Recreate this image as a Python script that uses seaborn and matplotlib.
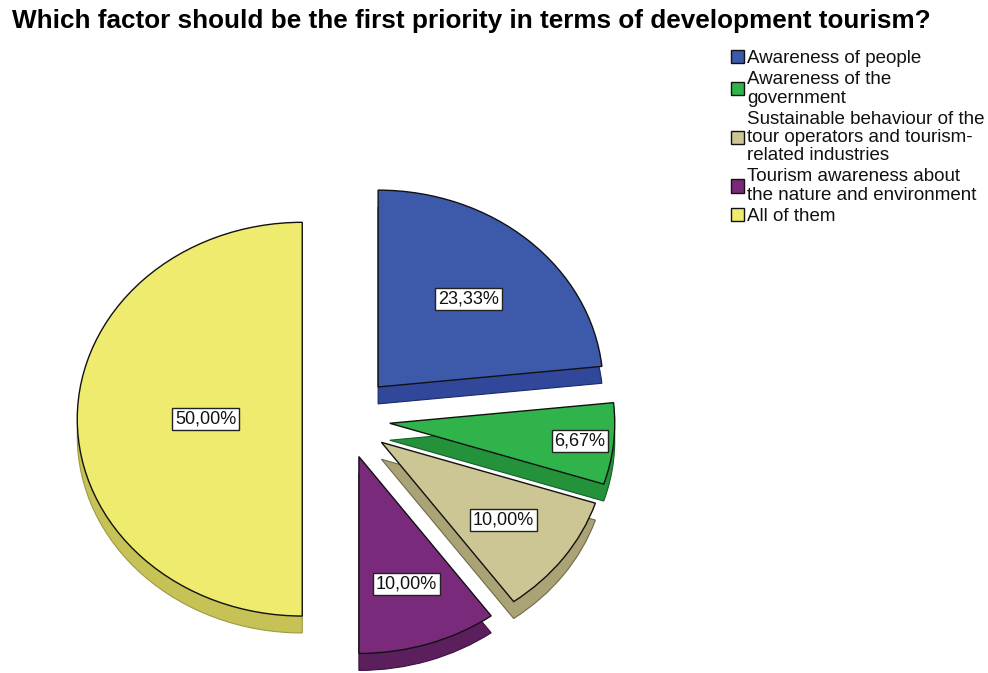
import matplotlib
matplotlib.use("Agg")
import matplotlib.pyplot as plt
import numpy as np
import seaborn as sns

# Survey answers: share of respondents per factor (%)
categories = [
    "Awareness of people",
    "Awareness of the\ngovernment",
    "Sustainable behaviour of the\ntour operators and tourism-\nrelated industries",
    "Tourism awareness about\nthe nature and environment",
    "All of them",
]
percentages = [23.33, 6.67, 10.00, 10.00, 50.00]
title = "Which factor should be the first priority in terms of development tourism?"

sns.set_theme(style="white")
plt.rcParams["font.family"] = ["Liberation Sans", "DejaVu Sans"]
plt.rcParams["text.color"] = "black"

top_colors = sns.color_palette(["#3d59aa", "#31b34b", "#ccc594", "#7a2a7b", "#efeb6e"])
side_colors = sns.color_palette(["#31489a", "#23923a", "#a9a375", "#5c1f5e", "#c6c255"])
side_edges = ["#1a2a66", "#16602a", "#6f6a48", "#3a103c", "#9d9a40"]

explode = [0.22, 0.20, 0.20, 0.20, 0.19]
label_radius = [0.60, 0.85, 0.67, 0.68, 0.43]
depth = 0.086

W, H = 988, 673
fig = plt.figure(figsize=(W / 100, H / 100), dpi=100)
fig.patch.set_facecolor("white")
ax = fig.add_axes([7.5 / W, 7.75 / H, 675 / W, 502 / H])

# extruded side of each slice: a darker copy pushed down
ax.pie(percentages, explode=explode, colors=side_colors, startangle=90,
       counterclock=False, radius=1, center=(0, -depth), frame=False,
       wedgeprops=dict(edgecolor="none", linewidth=0))
for w, ec in zip(ax.patches, side_edges):
    w.set_edgecolor(ec)
    w.set_linewidth(0.8)

# top face of the pie
wedges, _ = ax.pie(percentages, explode=explode, colors=top_colors, startangle=90,
                   counterclock=False, radius=1, center=(0, 0), frame=False,
                   wedgeprops=dict(edgecolor="#111111", linewidth=1.0))

ax.set_aspect("auto")
ax.set_xlim(-1.5, 1.5)
ax.set_ylim(-1.25, 1.3)
ax.axis("off")

for w, pct, r in zip(wedges, percentages, label_radius):
    mid = np.deg2rad((w.theta1 + w.theta2) / 2)
    cx, cy = w.center
    ax.text(cx + r * np.cos(mid), cy + r * np.sin(mid),
            f"{pct:.2f}%".replace(".", ","), ha="center", va="center",
            fontsize=13, color="#111111", zorder=5,
            bbox=dict(boxstyle="square,pad=0.15", fc="white", ec="#222222", lw=1))

fig.text(12 / W, 1 - 21 / H, title, ha="left", va="center",
         fontsize=18.8, fontweight="bold", color="black")

leg = fig.legend(handles=wedges, labels=categories, loc="upper left",
                 bbox_to_anchor=(731 / W, 1 - 50 / H), frameon=False,
                 fontsize=13.5, handlelength=0.7, handleheight=0.7,
                 handletextpad=0.15, borderaxespad=0, borderpad=0,
                 labelspacing=0.22)
for t in leg.get_texts():
    t.set_linespacing(1.1)
    t.set_color("#111111")

fig.savefig("out.png", dpi=100, facecolor="white")
